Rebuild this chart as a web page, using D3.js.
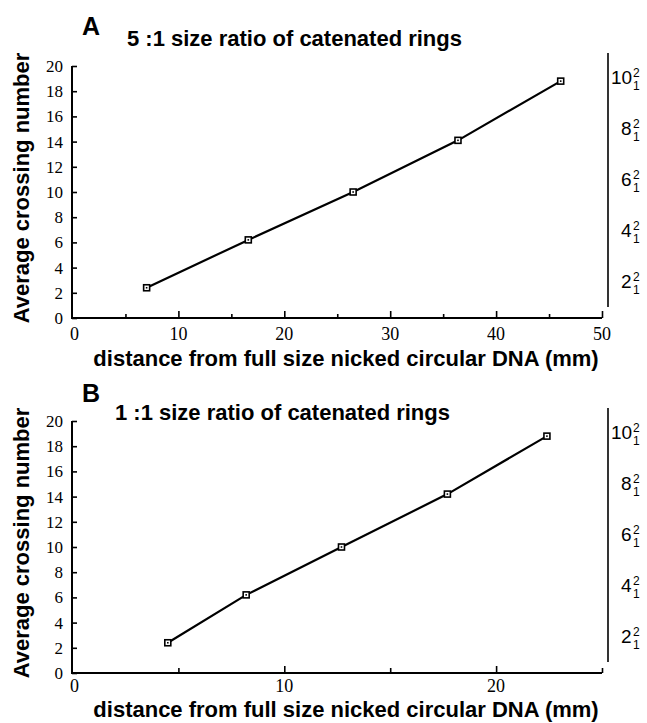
<!DOCTYPE html>
<html>
<head>
<meta charset="utf-8">
<script src="https://cdn.jsdelivr.net/npm/d3@7"></script>
<style>
  body { margin: 0; background: #fff; }
  svg { display: block; }
</style>
</head>
<body>
<div id="chart"></div>
<script>
// two panels, same y range, different x range
var distA = [7.0, 16.6, 26.5, 36.4, 46.1];
var crossA = [2.4, 6.2, 10.0, 14.1, 18.8];
var distB = [4.5, 8.2, 12.7, 17.7, 22.4];
var crossB = [2.4, 6.2, 10.0, 14.2, 18.8];

var yTicks = [0, 2, 4, 6, 8, 10, 12, 14, 16, 18, 20];
var xTicksA = [0, 10, 20, 30, 40, 50];
var xMinorA = [5, 15, 25, 35, 45];
var xTicksB = [0, 10, 20];
var xMinorB = [5, 15, 25];
var knotLabels = ["10", "8", "6", "4", "2"];

var titleA = "5 :1 size ratio of catenated rings";
var titleB = "1 :1 size ratio of catenated rings";
var yTitle = "Average crossing number";
var xTitle = "distance from full size nicked circular DNA (mm)";

var W = 647, H = 723;
var serif = "Liberation Serif";
var sans = "Liberation Sans";

var svg = d3.select("#chart").append("svg")
    .attr("width", W)
    .attr("height", H);

function drawPanel(p)
{
    var g = svg.append("g");
    var x = d3.scaleLinear().domain([0, p.xMax]).range([72.5, 602]);
    var y = d3.scaleLinear().domain([0, 20]).range([p.y0, p.y0 - 252]);

    // left axis, ticks point inward
    var yAxis = d3.axisRight(y).tickValues(yTicks).tickSize(5).tickFormat("");
    g.append("g").attr("transform", "translate(72,0)").call(yAxis)
        .call(function(a) {
            a.select(".domain").attr("stroke-width", 2).attr("d", "M0," + y(0) + "V" + y(20));
            a.selectAll(".tick line").attr("stroke-width", 1.6);
        });
    g.append("g").selectAll("text").data(yTicks).enter().append("text")
        .attr("font-family", serif)
        .attr("font-size", 17)
        .attr("x", 63)
        .attr("y", function(d) { return y(d); })
        .attr("dy", "0.35em")
        .attr("text-anchor", "end")
        .text(function(d) { return d; });

    // bottom axis, major + minor ticks upward
    var xAxis = d3.axisTop(x).tickValues(p.xTicks.filter(function(d) { return d > 0; })).tickSize(7).tickFormat("");
    g.append("g").attr("transform", "translate(0," + p.y0 + ")").call(xAxis)
        .call(function(a) {
            a.select(".domain").attr("stroke-width", 2).attr("d", "M71,0H" + x(p.xMax));
            a.selectAll(".tick line").attr("stroke-width", 1.6);
        });
    var xMinor = d3.axisTop(x).tickValues(p.xMinor).tickSize(p.minorLen).tickFormat("");
    g.append("g").attr("transform", "translate(0," + p.y0 + ")").call(xMinor)
        .call(function(a) {
            a.select(".domain").remove();
            a.selectAll(".tick line").attr("stroke-width", 1.6);
        });
    g.append("g").selectAll("text").data(p.xTicks).enter().append("text")
        .attr("font-family", serif)
        .attr("font-size", 18)
        .attr("x", function(d) { return x(d) + (d === 0 ? 2 : 0); })
        .attr("y", p.xLabelY)
        .attr("text-anchor", "middle")
        .text(function(d) { return d; });

    // data line and open square markers
    var pts = p.dist.map(function(d, i) { return [d, p.cross[i]]; });
    var line = d3.line()
        .x(function(d) { return x(d[0]); })
        .y(function(d) { return y(d[1]); });
    g.append("path").datum(pts)
        .attr("d", line)
        .attr("fill", "none")
        .attr("stroke", "#000")
        .attr("stroke-width", 2.2);
    var mk = g.append("g").selectAll("g").data(pts).enter().append("g")
        .attr("transform", function(d) { return "translate(" + x(d[0]) + "," + y(d[1]) + ")"; });
    mk.append("rect").attr("x", -3).attr("y", -3).attr("width", 6).attr("height", 6)
        .attr("fill", "#fff").attr("stroke", "#000").attr("stroke-width", 1.6);
    mk.append("rect").attr("x", -0.8).attr("y", -0.8).attr("width", 1.6).attr("height", 1.6)
        .attr("fill", "#000");

    // right side knot type scale: one text per label, sup and sub as tspans
    var top = p.y0 - 265, bot = p.y0 - 11;
    g.append("line").attr("x1", 608).attr("x2", 608).attr("y1", top).attr("y2", bot)
        .attr("stroke", "#000").attr("stroke-width", 1.6);
    var k = d3.scalePoint().domain(knotLabels).range([top, bot]).padding(0.5);
    var kl = g.append("g").selectAll("text").data(knotLabels).enter().append("text")
        .attr("font-family", sans)
        .attr("y", function(d) { return k(d) + 6; });
    kl.append("tspan")
        .attr("x", function(d) { return d.length > 1 ? 611 : 621; })
        .attr("font-size", 19)
        .text(function(d) { return d; });
    kl.append("tspan").attr("x", 633).attr("dy", -7)
        .attr("font-size", 12).text("2");
    kl.append("tspan").attr("x", 633).attr("dy", 13)
        .attr("font-size", 12).text("1");

    // panel letter, title, axis titles
    g.append("text").attr("font-family", sans).attr("font-weight", "bold").attr("font-size", 25)
        .attr("x", 82).attr("y", p.letterY)
        .text(p.letter);
    g.append("text").attr("font-family", sans).attr("font-weight", "bold").attr("font-size", 22)
        .attr("x", p.titleX).attr("y", p.titleY)
        .text(p.title);
    g.append("text").attr("font-family", sans).attr("font-weight", "bold").attr("font-size", 22)
        .attr("transform", "translate(29," + (p.y0 - 130) + ") rotate(-90)")
        .attr("text-anchor", "middle")
        .text(yTitle);
    g.append("text").attr("font-family", sans).attr("font-weight", "bold").attr("font-size", 22)
        .attr("x", 346).attr("y", p.xTitleY)
        .attr("text-anchor", "middle")
        .text(xTitle);
}

drawPanel({ dist: distA, cross: crossA, xMax: 50, xTicks: xTicksA, xMinor: xMinorA, minorLen: 4,
    y0: 318, xLabelY: 340, xTitleY: 366, letter: "A", letterY: 35, title: titleA, titleX: 127, titleY: 46 });
drawPanel({ dist: distB, cross: crossB, xMax: 25, xTicks: xTicksB, xMinor: xMinorB, minorLen: 5,
    y0: 673, xLabelY: 692, xTitleY: 717, letter: "B", letterY: 402, title: titleB, titleX: 115, titleY: 420 });
</script>
</body>
</html>
